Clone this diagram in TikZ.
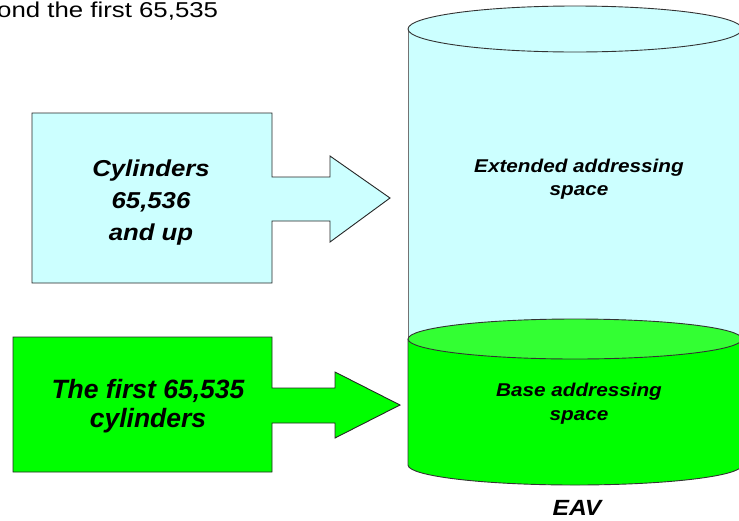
\documentclass[tikz,border=0pt]{standalone}
\usepackage{fontspec}
\setmainfont{Liberation Sans}
\newfontfamily\fA[FakeStretch=1.2]{Liberation Sans}
\newfontfamily\fB[FakeStretch=1.12]{Liberation Sans}
\definecolor{lblue}{HTML}{CCFFFF}
\definecolor{vgreen}{HTML}{00FF00}
\definecolor{lgreen}{HTML}{33FF33}
\tikzset{
  boxline/.style={draw=black!85, line width=0.9pt, line join=miter},
  cyledge/.style={draw=black!80, line width=0.9pt},
  lbl/.style={inner sep=0pt, anchor=base},
  bigbi/.style={font=\fB\fontsize{23}{23}\selectfont\bfseries\itshape},
  grbi/.style={font=\fontsize{26.5}{26.5}\selectfont\bfseries\itshape},
  cylbi/.style={font=\fB\fontsize{18.5}{18.5}\selectfont\bfseries\itshape},
}
\begin{document}
\begin{tikzpicture}[x=1pt,y=-1pt]
\useasboundingbox (0,0) rectangle (739,520);
\begin{scope}
\clip (0,0) rectangle (739,520);
% heading fragment
\node[lbl, anchor=base west, font=\fA\fontsize{21.5}{21.5}\selectfont] (head) at (-3,17.5) {ond the first 65,535};

% blue cylinder body
\path[fill=lblue] (408,29) -- (408,339) -- (742,339) -- (742,29) -- cycle;
\draw[cyledge, draw=black!55] (408,29) -- (408,339);
\draw[cyledge, draw=black!55] (742,29) -- (742,339);
\draw[cyledge, fill=lblue] (575,29) ellipse [x radius=167, y radius=23];

% green cylinder
\path[fill=vgreen] (408,339) -- (408,465) arc[start angle=180, end angle=0, x radius=167, y radius=20] -- (742,339) -- cycle;
\draw[cyledge] (408,339) -- (408,465) arc[start angle=180, end angle=0, x radius=167, y radius=20] -- (742,339);
\draw[cyledge, fill=lgreen] (575,339) ellipse [x radius=167, y radius=20];
\end{scope}

% blue callout
\draw[boxline, fill=lblue] (32,113) -- (272,113) -- (272,177) -- (330,177) -- (330,156) -- (390,198) -- (330,242) -- (330,221) -- (272,221) -- (272,283) -- (32,283) -- cycle;
% green callout
\draw[boxline, fill=vgreen] (13,337) -- (272,337) -- (272,388) -- (335,388) -- (335,372) -- (400,405) -- (335,438) -- (335,423) -- (272,423) -- (272,472) -- (13,472) -- cycle;

% blue callout text
\node[lbl, bigbi] (c1) at (151,176) {Cylinders};
\node[lbl, bigbi] (c2) at (151,208) {65,536};
\node[lbl, bigbi] (c3) at (151,240) {and up};

% green callout text
\node[lbl, grbi] (g1) at (148,398) {The first 65,535};
\node[lbl, grbi] (g2) at (148,427) {cylinders};

% cylinder texts
\node[lbl, cylbi] (e1) at (579,172) {Extended addressing};
\node[lbl, cylbi] (e2) at (579,195) {space};
\node[lbl, cylbi] (b1) at (579,396) {Base addressing};
\node[lbl, cylbi] (b2) at (579,420) {space};

\node[lbl, font=\fB\fontsize{22}{22}\selectfont\bfseries\itshape] (eav) at (577,515.5) {EAV};
\end{tikzpicture}
\end{document}
